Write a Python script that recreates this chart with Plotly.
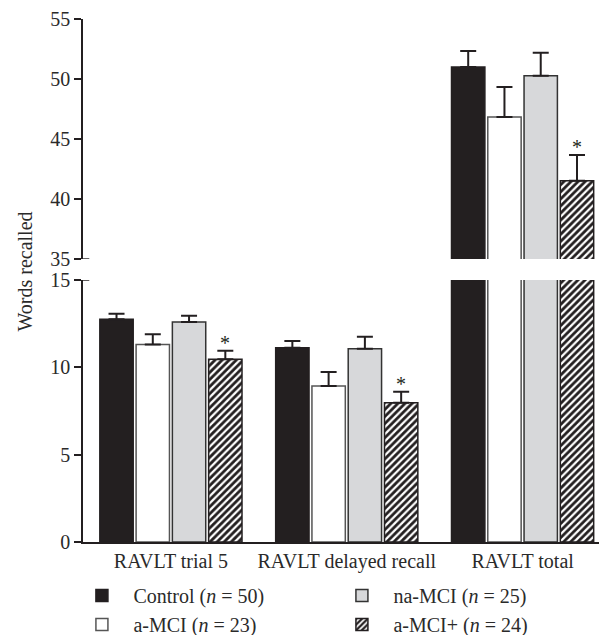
import plotly.graph_objects as go

categories = ["RAVLT trial 5", "RAVLT delayed recall", "RAVLT total"]
series_names = ["Control (<i>n</i> = 50)", "a-MCI (<i>n</i> = 23)",
                "na-MCI (<i>n</i> = 25)", "a-MCI+ (<i>n</i> = 24)"]
control = [12.75, 11.12, 51.0]
control_err = [0.32, 0.38, 1.33]
amci = [11.3, 8.93, 46.83]
amci_err = [0.6, 0.8, 2.5]
namci = [12.6, 11.07, 50.28]
namci_err = [0.35, 0.68, 1.9]
amciplus = [10.46, 7.97, 41.53]
amciplus_err = [0.49, 0.63, 2.14]
significant = [True, True, True]  # a-MCI+ marked with *

DARK = "#231f20"
TXT = "#2a2a2a"
FONT = "Liberation Serif"
styles = [
    dict(color=DARK, line=dict(color=DARK, width=1.5)),
    dict(color="white", line=dict(color="#555555", width=1.5)),
    dict(color="#d7d8da", line=dict(color="#333333", width=1.5)),
    dict(color="white", line=dict(color=DARK, width=1.5),
         pattern=dict(shape="/", fgcolor=DARK, bgcolor="white", size=5, solidity=0.55,
                      fgopacity=1)),
]
values = [control, amci, namci, amciplus]
errors = [control_err, amci_err, namci_err, amciplus_err]
ranks = [1, 3, 2, 4]

BARGAP = 0.175
BARGROUPGAP = 0.08

fig = go.Figure()
for yax in ["y", "y2"]:
    for i in range(4):
        fig.add_trace(go.Bar(
            x=categories, y=values[i], name=series_names[i],
            marker=styles[i], yaxis=yax, xaxis="x",
            offsetgroup=str(i), legendrank=ranks[i],
            showlegend=(yax == "y"),
            error_y=dict(type="data", symmetric=False, array=errors[i],
                         arrayminus=[0] * 3, color=DARK, thickness=2, width=8),
        ))

# asterisks above a-MCI+ bars
slot = (1 - BARGAP) / 4
for j, cat in enumerate(categories):
    if not significant[j]:
        continue
    top = amciplus[j] + amciplus_err[j]
    yref = "y" if top <= 15 else "y2"
    fig.add_annotation(x=j - (1 - BARGAP) / 2 + 3.5 * slot, y=top, xref="x", yref=yref,
                       text="*", showarrow=False, yanchor="bottom", yshift=-5,
                       font=dict(family=FONT, size=20, color=DARK))

fig.add_annotation(text="Words recalled", textangle=-90, xref="paper", yref="paper",
                   x=-0.111, y=0.517, showarrow=False, xanchor="center", yanchor="middle",
                   font=dict(family=FONT, size=20, color=TXT))

# axis break marks
for yref, yv in [("y2", 35), ("y", 15)]:
    fig.add_shape(type="line", xref="paper", yref=yref, x0=-0.012, x1=0.012, y0=yv, y1=yv,
                  line=dict(color=DARK, width=1.5))

axis_common = dict(showgrid=False, zeroline=False, showline=True, linecolor=DARK,
                   linewidth=1.5, ticks="outside", ticklen=7, tickcolor=DARK, tickwidth=1.5,
                   tickfont=dict(family=FONT, size=20, color=TXT))

fig.update_layout(
    width=599, height=627,
    margin=dict(l=75, r=0, t=11, b=93, autoexpand=False),
    plot_bgcolor="white", paper_bgcolor="white",
    barmode="group", bargap=BARGAP, bargroupgap=BARGROUPGAP,
    xaxis=dict(type="category", range=[-0.5, 2.48], showline=True, linecolor=DARK,
               linewidth=1.5, ticks="", showgrid=False, anchor="y",
               tickfont=dict(family=FONT, size=20, color=TXT)),
    yaxis=dict(domain=[0, 0.501], range=[0, 15], tickvals=[0, 5, 10, 15], **axis_common),
    yaxis2=dict(domain=[0.541, 1], range=[35, 55], tickvals=[35, 40, 45, 50, 55],
                anchor="x", **axis_common),
    showlegend=True,
    legend=dict(orientation="h", x=-0.024, y=-0.065, xanchor="left", yanchor="top",
                entrywidth=192, entrywidthmode="pixels", traceorder="normal", itemwidth=53,
                font=dict(family=FONT, size=20, color=TXT), tracegroupgap=0),
    font=dict(family=FONT),
)

fig.write_html("out.html")
